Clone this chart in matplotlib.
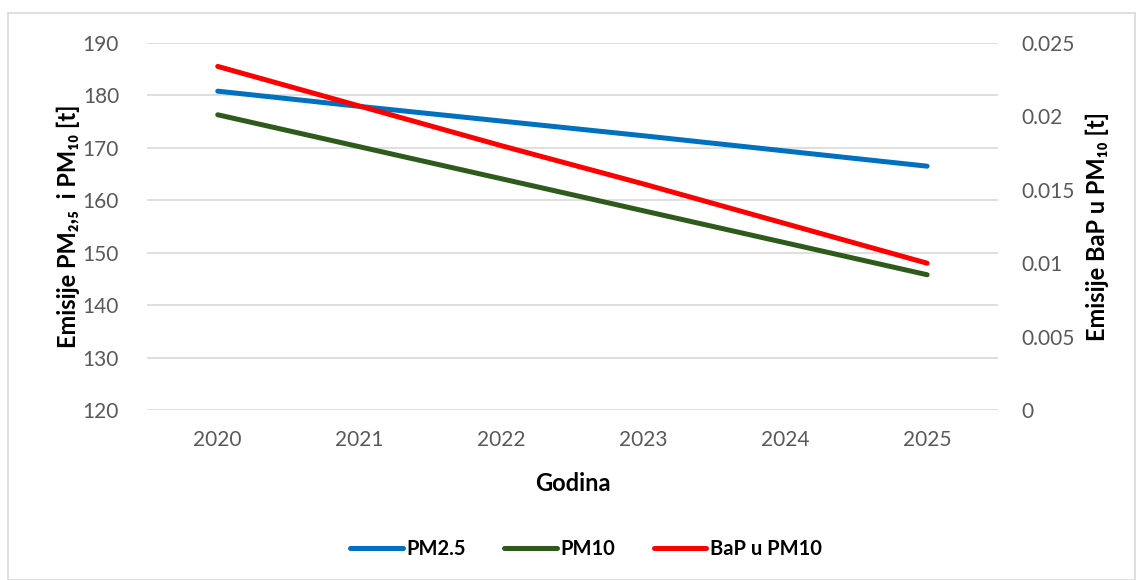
import matplotlib.pyplot as plt
from matplotlib.patches import Rectangle

plt.rcParams['font.family'] = ['Lato', 'DejaVu Sans']

# emisije po godinama
godine = ['2020', '2021', '2022', '2023', '2024', '2025']
pm25 = [180.8, 177.9, 175.1, 172.3, 169.4, 166.5]
pm10 = [176.3, 170.2, 164.1, 158.0, 151.9, 145.8]
bap = [0.0234, 0.0207, 0.0180, 0.0154, 0.0127, 0.0100]

fig = plt.figure(figsize=(11.38, 5.8), dpi=100)
ax = fig.add_axes([0.129, 0.293, 0.748, 0.633])
ax2 = ax.twinx()

x = range(len(godine))
l1, = ax.plot(x, pm25, color='#0070C0', lw=3.6, solid_capstyle='round', label='PM2.5')
l2, = ax.plot(x, pm10, color='#2E5A1C', lw=3.6, solid_capstyle='round', label='PM10')
l3, = ax2.plot(x, bap, color='#FF0000', lw=3.6, solid_capstyle='round', label='BaP u PM10')

ax.set_xlim(-0.5, 5.5)
ax.set_ylim(120, 190)
ax.set_yticks(range(120, 191, 10))
ax2.set_ylim(0, 0.025)
ax2.set_yticks([0, 0.005, 0.01, 0.015, 0.02, 0.025])
ax2.set_yticklabels(['0', '0.005', '0.01', '0.015', '0.02', '0.025'])
ax.set_xticks(list(x))
ax.set_xticklabels(godine)

ax.grid(axis='y', color='#D9D9D9', lw=1.2)
ax.set_axisbelow(True)
for a in (ax, ax2):
    for s in a.spines.values():
        s.set_visible(False)
    a.tick_params(length=0, colors='#595959', labelsize=15)
ax.tick_params(axis='y', pad=20)
ax.tick_params(axis='x', pad=14)
ax2.tick_params(axis='y', pad=17)

ax.set_xlabel('Godina', fontsize=17, fontweight='bold', labelpad=16)
ax.set_ylabel('Emisije PM\u2082,\u2085  i PM\u2081\u2080 [t]',
              fontsize=17, fontweight='bold', labelpad=2)
ax2.set_ylabel('Emisije BaP u PM\u2081\u2080 [t]',
               fontsize=17, fontweight='bold', labelpad=8)

fig.legend(handles=[l1, l2, l3], loc='center', bbox_to_anchor=(0.515, 0.053),
           ncol=3, frameon=False, handlelength=2.6, handletextpad=0.2,
           columnspacing=1.9, prop={'weight': 'bold', 'size': 14.5})

# okvir oko grafikona
fig.patches.append(Rectangle((0.007, 0.0), 0.99, 0.978, transform=fig.transFigure,
                             fill=False, edgecolor='#D9D9D9', lw=1.2))

fig.savefig('out.png', dpi=100)
